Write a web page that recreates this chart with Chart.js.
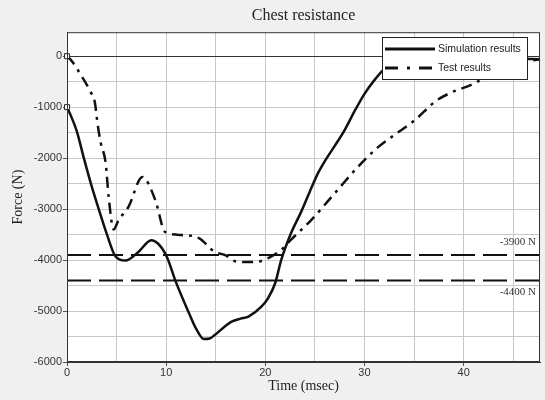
<!DOCTYPE html>
<html>
<head>
<meta charset="utf-8">
<script src="https://cdn.jsdelivr.net/npm/chart.js@4/dist/chart.umd.min.js"></script>
<style>
  html, body { margin: 0; padding: 0; background: #f0f0f0; }
  canvas { display: block; }
</style>
</head>
<body>
<canvas id="chestChart" width="545" height="400"></canvas>
<script>
// Simulation results (solid)
const simTime = [0, 0.5, 1, 1.7, 2.5, 3.2, 4, 4.9, 5.9, 7.2, 8.5, 9.2, 9.9, 10.3, 10.9, 12.3, 13, 13.8, 14.4, 14.9, 16, 16.6, 17.5, 18.3, 19.6, 20.3, 21, 21.6, 22.6, 23.6, 24.5, 25.3, 26, 27, 28, 29, 30, 31, 32, 33, 35, 40, 45, 47.7];
const simForce = [-1000, -1220, -1480, -2000, -2560, -3000, -3480, -3930, -4010, -3840, -3610, -3680, -3870, -4050, -4390, -5040, -5340, -5550, -5540, -5470, -5290, -5210, -5150, -5110, -4915, -4740, -4450, -4000, -3470, -3060, -2650, -2300, -2060, -1760, -1450, -1080, -740, -470, -250, -100, -40, -40, -50, -60];

// Test results (dash-dot)
const testTime = [0, 0.5, 1.4, 2.4, 2.8, 3.1, 3.4, 3.9, 4.2, 4.7, 5.2, 6.2, 7.6, 8.9, 9.9, 11.6, 13.3, 14.9, 15.9, 17.1, 19, 20.3, 21.6, 22.6, 24.6, 27, 29.3, 31.4, 33.5, 35.1, 37.2, 38.9, 40.7, 41.7, 43, 45, 47.7];
const testForce = [0, -100, -370, -710, -900, -1350, -1700, -2100, -2760, -3400, -3215, -2955, -2370, -2820, -3450, -3510, -3570, -3840, -3900, -4030, -4040, -3960, -3800, -3600, -3220, -2690, -2180, -1780, -1480, -1250, -880, -700, -570, -470, -350, -150, -60];

// Reference limits
const limitValues = [-3900, -4400];
const limitLabels = ['-3900 N', '-4400 N'];

// Grid / tick positions (labels only on every second line)
const timeTicks = [0, 5, 10, 15, 20, 25, 30, 35, 40, 45];
const timeLabels = ['0', '', '10', '', '20', '', '30', '', '40', ''];
const forceTicks = [-6000, -5500, -5000, -4500, -4000, -3500, -3000, -2500, -2000, -1500, -1000, -500, 0];
const forceLabels = ['-6000', '', '-5000', '', '-4000', '', '-3000', '', '-2000', '', '-1000', '', '0'];

const xMax = 47.7;
const yMin = -6000, yMax = 470;

const toPoints = (xs, ys) => xs.map((x, i) => ({ x: x, y: ys[i] }));
const labelFor = (vals, labels) => v => { const i = vals.indexOf(v); return i < 0 ? '' : labels[i]; };
const timeLabel = labelFor(timeTicks, timeLabels);
const forceLabel = labelFor(forceTicks, forceLabels);

const limitSets = limitValues.map(v => ({
    label: String(v),
    data: [{ x: 0, y: v }, { x: xMax, y: v }],
    borderColor: '#111',
    borderWidth: 2,
    borderDash: [24, 8],
    pointRadius: 0
}));

// background, frame, legend and limit labels
const decor = {
    id: 'decor',
    beforeDraw(chart) {
        const { ctx, chartArea: a } = chart;
        ctx.save();
        ctx.fillStyle = '#f0f0f0';
        ctx.fillRect(0, 0, chart.width, chart.height);
        ctx.fillStyle = '#ffffff';
        ctx.fillRect(a.left, a.top, a.right - a.left, a.bottom - a.top);
        ctx.restore();
    },
    afterDraw(chart) {
        const { ctx, chartArea: a, scales } = chart;
        ctx.save();
        ctx.strokeStyle = '#333';
        ctx.lineWidth = 1;
        ctx.strokeRect(a.left + 0.5, a.top + 0.5, a.right - a.left - 1, a.bottom - a.top - 1);

        // limit labels
        ctx.font = '11px "Liberation Serif"';
        ctx.fillStyle = '#333';
        ctx.textAlign = 'right';
        ctx.textBaseline = 'middle';
        limitValues.forEach((v, i) => {
            const y = scales.y.getPixelForValue(v);
            ctx.fillText(limitLabels[i], a.right - 4, i === 0 ? y - 13 : y + 12);
        });

        // legend
        const lx = 382, ly = 37, lw = 146, lh = 43;
        ctx.fillStyle = '#fff';
        ctx.fillRect(lx, ly, lw, lh);
        ctx.strokeStyle = '#222';
        ctx.strokeRect(lx + 0.5, ly + 0.5, lw - 1, lh - 1);
        const rows = [
            { text: 'Simulation results', dash: [], y: ly + 12 },
            { text: 'Test results', dash: [13, 9, 3, 9], y: ly + 31 }
        ];
        rows.forEach(r => {
            ctx.beginPath();
            ctx.setLineDash(r.dash);
            ctx.lineWidth = 3;
            ctx.strokeStyle = '#111';
            ctx.moveTo(lx + 3, r.y);
            ctx.lineTo(lx + 53, r.y);
            ctx.stroke();
            ctx.setLineDash([]);
            ctx.font = '10.5px "Liberation Sans"';
            ctx.fillStyle = '#222';
            ctx.textAlign = 'left';
            ctx.fillText(r.text, lx + 56, r.y);
        });
        ctx.restore();
    }
};

new Chart(document.getElementById('chestChart').getContext('2d'), {
    type: 'line',
    data: {
        datasets: [
            {
                label: 'Simulation results',
                data: toPoints(simTime, simForce),
                borderColor: '#111',
                borderWidth: 2.5,
                cubicInterpolationMode: 'monotone',
                clip: false,
                pointStyle: 'rect',
                pointRadius: ctx => ctx.dataIndex === 0 ? 3.5 : 0,
                pointBackgroundColor: '#fff',
                pointBorderColor: '#222',
                pointBorderWidth: 1
            },
            {
                label: 'Test results',
                data: toPoints(testTime, testForce),
                borderColor: '#111',
                borderWidth: 2.5,
                borderDash: [11, 6, 3, 6],
                cubicInterpolationMode: 'monotone',
                clip: false,
                pointStyle: 'rect',
                pointRadius: ctx => ctx.dataIndex === 0 ? 3.5 : 0,
                pointBackgroundColor: '#fff',
                pointBorderColor: '#222',
                pointBorderWidth: 1
            },
            ...limitSets
        ]
    },
    options: {
        responsive: false,
        animation: false,
        layout: { padding: { left: 0, right: 2, top: 0, bottom: 0 } },
        plugins: {
            legend: { display: false },
            tooltip: { enabled: false },
            title: {
                display: true,
                text: 'Chest resistance',
                fullSize: false,
                color: '#222',
                font: { family: '"Liberation Serif"', size: 16, weight: 'normal' },
                padding: { top: 6, bottom: 7 }
            }
        },
        scales: {
            x: {
                type: 'linear',
                min: 0,
                max: xMax,
                afterFit: s => { s.height = 38; },
                afterBuildTicks: s => { s.ticks = timeTicks.map(v => ({ value: v })); },
                grid: {
                    color: '#c8c8c8',
                    tickLength: 4,
                    tickColor: c => (c.tick && timeLabel(c.tick.value) !== '') ? '#555' : 'rgba(0,0,0,0)'
                },
                border: { color: '#333' },
                ticks: {
                    autoSkip: false,
                    maxRotation: 0,
                    padding: 0,
                    color: '#333',
                    font: { family: '"Liberation Sans"', size: 11 },
                    callback: v => timeLabel(v)
                },
                title: {
                    display: true,
                    text: 'Time (msec)',
                    color: '#222',
                    font: { family: '"Liberation Serif"', size: 14 },
                    padding: { top: 0, bottom: 5 }
                }
            },
            y: {
                type: 'linear',
                min: yMin,
                max: yMax,
                afterFit: s => { s.width = 67; },
                afterBuildTicks: s => { s.ticks = forceTicks.map(v => ({ value: v })); },
                grid: {
                    color: c => (c.tick && c.tick.value === 0) ? '#333' : '#c8c8c8',
                    tickLength: 4,
                    tickColor: c => (c.tick && forceLabel(c.tick.value) !== '') ? '#555' : 'rgba(0,0,0,0)'
                },
                border: { color: '#333' },
                ticks: {
                    autoSkip: false,
                    padding: 1,
                    color: '#333',
                    font: { family: '"Liberation Sans"', size: 11 },
                    callback: v => forceLabel(v)
                },
                title: {
                    display: true,
                    text: 'Force (N)',
                    color: '#222',
                    font: { family: '"Liberation Serif"', size: 14 },
                    padding: { top: 10, bottom: 0 }
                }
            }
        }
    },
    plugins: [decor]
});
</script>
</body>
</html>
